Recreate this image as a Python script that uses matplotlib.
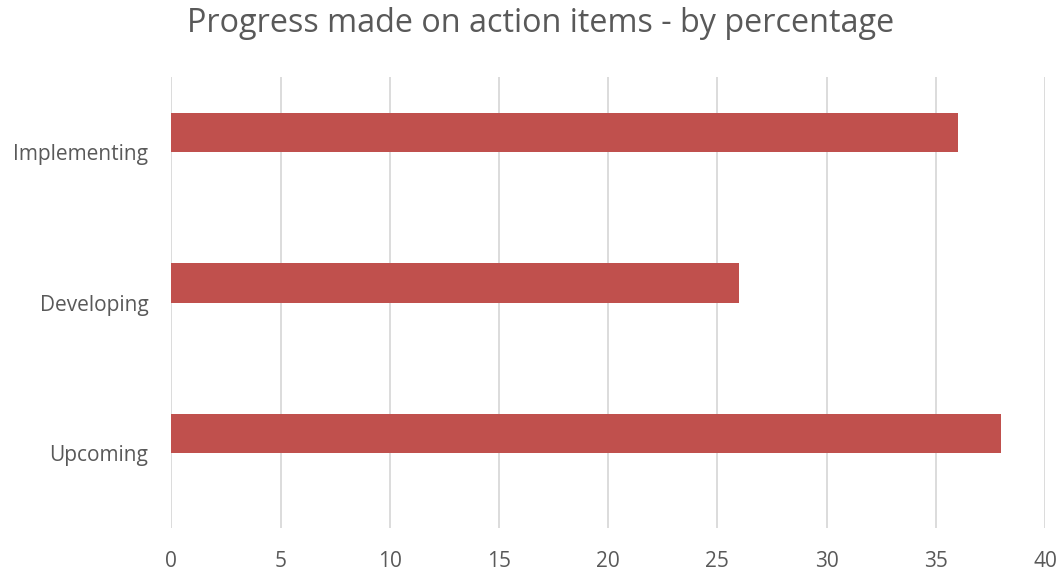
import matplotlib
matplotlib.use("Agg")
import matplotlib.pyplot as plt

# Action item stages and their share of progress (%)
categories = ["Upcoming", "Developing", "Implementing"]
percentages = [38, 26, 36]
x_ticks = [0, 5, 10, 15, 20, 25, 30, 35, 40]

plt.rcParams["font.family"] = ["Open Sans", "DejaVu Sans"]

fig = plt.figure(figsize=(10.61, 5.71), dpi=100)
ax = fig.add_axes([0.1615, 0.0753, 0.8235, 0.7898])

positions = list(range(len(categories)))
bar_height = 0.26
# the series occupies the upper slot of a two-slot cluster in each category band
slot_offset = bar_height / 2
ax.barh([p + slot_offset for p in positions], percentages, height=bar_height,
        color="#C0504D", zorder=3)

ax.set_xlim(0, 40)
ax.set_ylim(-0.5, len(categories) - 0.5)
ax.set_xticks(x_ticks)
ax.set_xticklabels([str(t) for t in x_ticks])
ax.set_yticks(positions)
ax.set_yticklabels(categories)

ax.grid(axis="x", color="#D9D9D9", linewidth=1.3, zorder=0)
ax.grid(axis="y", visible=False)
for side in ax.spines.values():
    side.set_visible(False)

ax.tick_params(axis="both", length=0, colors="#595959", labelsize=15)
ax.tick_params(axis="x", pad=16.5)
ax.tick_params(axis="y", pad=16.5)

fig.text(0.5094, 0.958, "Progress made on action items - by percentage",
         ha="center", va="center", fontsize=23.3, color="#595959")

fig.savefig("out.png", dpi=100)
